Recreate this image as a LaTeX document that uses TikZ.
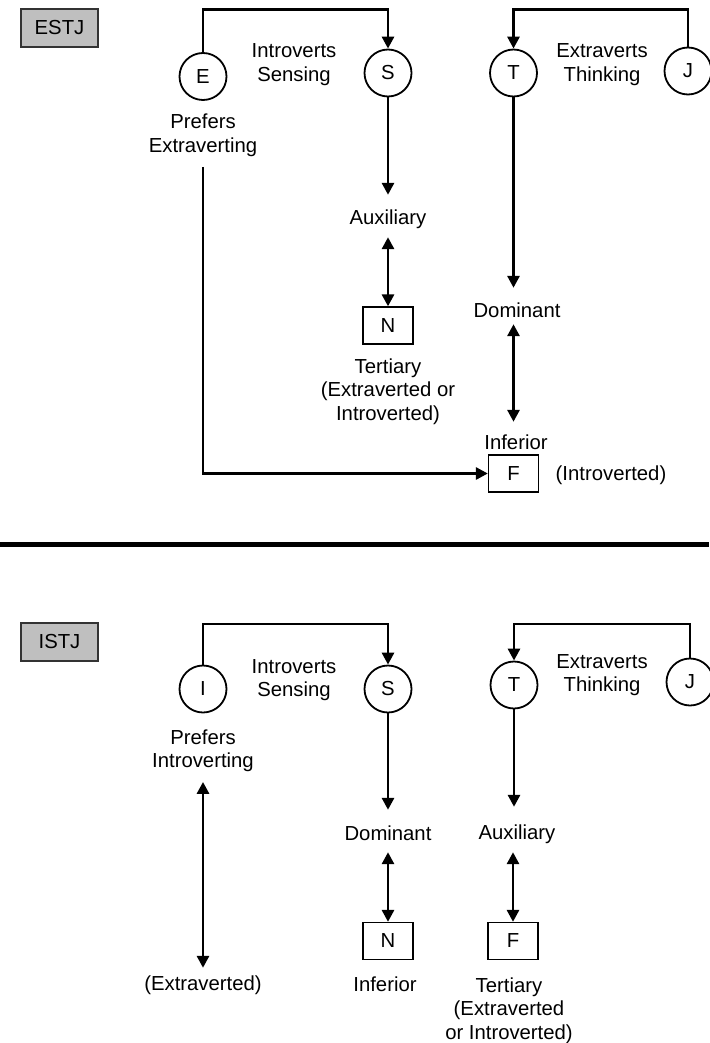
\documentclass[tikz,border=0pt]{standalone}
\usepackage{fontspec}
\setmainfont{Liberation Sans}
\usetikzlibrary{arrows.meta}
\begin{document}
\begin{tikzpicture}[x=1pt,y=-1pt,
  font=\fontsize{20.3pt}{23.5pt}\selectfont,
  conn/.style={line width=2.9pt},
  tip/.style={-{Triangle[length=12pt,width=12pt]}},
  dtip/.style={{Triangle[length=12pt,width=12pt]}-{Triangle[length=12pt,width=12pt]}},
  fcirc/.style={circle,draw,line width=1.8pt,minimum size=47pt,inner sep=0pt},
  fbox/.style={rectangle,draw,line width=1.3pt,minimum width=50pt,minimum height=37pt,inner sep=0pt},
  tag/.style={rectangle,draw=black!80,line width=1.2pt,fill=black!25,
              minimum width=77pt,minimum height=38pt,inner sep=0pt},
  lbl/.style={inner sep=0pt,text height=14pt,text depth=4pt,anchor=base},
  % multi-line labels: base anchor sits on the last line's baseline
  lblm/.style={inner sep=0pt,align=center,anchor=base},
]
\useasboundingbox (0,0) rectangle (709,1043);

% ---------------- ESTJ ----------------
\coordinate (top1) at (0,9.5);
\node[tag] (tagA) at (59.5,28) {ESTJ};
\node[fcirc] (E1) at (203,76.5) {E};
\node[fcirc] (S1) at (388,73) {S};
\node[fcirc] (T1) at (513.5,73) {T};
\node[fcirc] (J1) at (688,71) {J};
\node[lblm] (is1) at (294,81.5) {Introverts\\Sensing};
\node[lblm] (et1) at (602,81.5) {Extraverts\\Thinking};
\node[lblm] (pref1) at (203,152.5) {Prefers\\Extraverting};
\node[lbl] (aux1) at (388,224) {Auxiliary};
\node[fbox] (N1) at (388,325.5) {N};
\node[lblm] (ter1) at (388,420) {Tertiary\\(Extraverted or\\Introverted)};
\node[lbl] (dom1) at (517,317) {Dominant};
\node[lbl] (inf1) at (516,449) {Inferior};
\node[fbox] (F1) at (513.5,473.5) {F};
\node[lbl] (intr1) at (611,480) {(Introverted)};

\draw[conn,tip] (E1.north) |- (S1.north |- top1) -- (S1.north);
\draw[conn,tip] (J1.north) |- (T1.north |- top1) -- (T1.north);
\draw[conn,tip,shorten >=15pt] (S1.south) -- (aux1.north);
\draw[conn,dtip,shorten <=9pt] (aux1.south) -- (N1.north);
\draw[conn,tip,shorten >=15pt] (T1.south) -- (T1.south |- dom1.north);
\draw[conn,dtip,shorten <=3pt,shorten >=13pt] (T1.south |- dom1.south) -- (T1.south |- inf1.north);
\draw[conn,tip,shorten <=10pt] (pref1.south) |- (F1.west);

% separator between the two types
\coordinate (sepL) at (0,544);
\coordinate (sepR) at (709,544);
\draw[line width=5pt] (sepL) -- (sepR);

% ---------------- ISTJ ----------------
\coordinate (top2) at (0,624);
\node[tag] (tagB) at (59.5,642) {ISTJ};
\node[fcirc] (I2) at (203,689) {I};
\node[fcirc] (S2) at (388,689) {S};
\node[fcirc] (T2) at (514,685) {T};
\node[fcirc] (J2) at (690,682) {J};
\node[lblm] (is2) at (294,696.5) {Introverts\\Sensing};
\node[lblm] (et2) at (602,691.5) {Extraverts\\Thinking};
\node[lblm] (pref2) at (203,767.5) {Prefers\\Introverting};
\node[lbl] (ext2) at (203,990) {(Extraverted)};
\node[lbl] (dom2) at (388,840) {Dominant};
\node[fbox] (N2) at (388,941) {N};
\node[lbl] (inf2) at (385,991) {Inferior};
\node[lbl] (aux2) at (517,839) {Auxiliary};
\node[fbox] (F2) at (513,941) {F};
\node[lblm] (ter2) at (509,1039) {Tertiary\\(Extraverted\\or Introverted)};

\draw[conn,tip] (I2.north) |- (S2.north |- top2) -- (S2.north);
\draw[conn,tip] (J2.north) |- (T2.north |- top2) -- (T2.north);
\draw[conn,dtip,shorten <=10pt,shorten >=8pt] (pref2.south) -- (ext2.north);
\draw[conn,tip,shorten >=16pt] (S2.south) -- (dom2.north);
\draw[conn,dtip,shorten <=8pt] (dom2.south) -- (N2.north);
\draw[conn,tip,shorten >=18pt] (T2.south) -- (T2.south |- aux2.north);
\draw[conn,dtip,shorten <=9pt] (F2.north |- aux2.south) -- (F2.north);
\end{tikzpicture}
\end{document}
